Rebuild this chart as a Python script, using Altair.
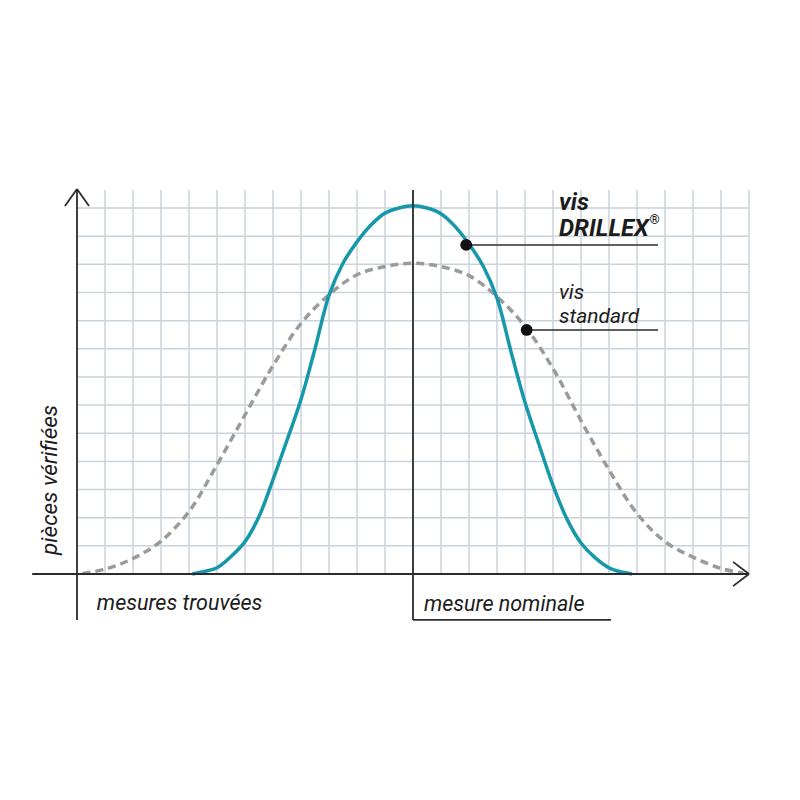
import altair as alt
import pandas as pd

# ---- data (grid units: 1 cell horizontally / vertically) ----
solid_x = [-7.88, -7.5, -7, -6.5, -6, -5.5, -5, -4.5, -4, -3.5, -3, -2.5, -2, -1.5, -1, -0.5, 0,
           0.5, 1, 1.5, 2, 2.5, 3, 3.5, 4, 4.5, 5, 5.5, 6, 6.5, 7, 7.5, 7.82]
solid_y = [0, 0.08, 0.22, 0.62, 1.15, 2.04, 3.35, 4.75, 6.2, 8.0, 9.9, 11.04, 11.8, 12.4, 12.82, 13.0, 13.08,
           13.0, 12.8, 12.35, 11.72, 10.95, 9.8, 7.9, 6.1, 4.6, 3.15, 1.95, 1.1, 0.58, 0.22, 0.06, 0]

dash_x = [-11.8, -11, -10, -9, -8, -7, -6, -5, -4, -3, -2, -1, 0, 1, 2, 3, 4, 5, 6, 7, 8, 9, 10, 11, 11.8]
dash_y = [0.02, 0.17, 0.55, 1.17, 2.22, 3.88, 5.65, 7.4, 8.9, 9.92, 10.63, 10.92, 11.04,
          10.92, 10.6, 9.85, 8.8, 7.3, 5.45, 3.7, 2.15, 1.15, 0.6, 0.2, 0.03]

grid_vx = list(range(-11, 13))
grid_hy = list(range(1, 14))

dot_x = [1.9, 4.06]
dot_y = [11.69, 8.67]
leader_end = 8.75

labels_text = ["vis", "DRILLEX", "®", "vis", "standard"]
axis_titles = ["mesures trouvées", "mesure nominale"]
y_title = "pièces vérifiées"

XDOM = [-14.464, 13.536]
YDOM = [-7.744, 20.107]

xs = alt.Scale(domain=XDOM, nice=False, zero=False)
ys = alt.Scale(domain=YDOM, nice=False, zero=False)

def X(f="x"):
    return alt.X(f"{f}:Q", scale=xs, axis=None)

def Y(f="y"):
    return alt.Y(f"{f}:Q", scale=ys, axis=None)

GRID = "#c9d3db"
INK = "#2b2b2b"
FONT = "Roboto"
TXT = "#1c1c1c"

vgrid = alt.Chart(pd.DataFrame({"x": grid_vx, "y": 0, "y2": 13.64})).mark_rule(
    color=GRID, strokeWidth=1.5).encode(x=X(), y=Y(), y2="y2:Q")
hgrid = alt.Chart(pd.DataFrame({"y": grid_hy, "x": -12, "x2": 12})).mark_rule(
    color=GRID, strokeWidth=1.5).encode(x=X(), x2="x2:Q", y=Y())

dash = alt.Chart(pd.DataFrame({"x": dash_x, "y": dash_y})).mark_line(
    color="#9b9b9b", strokeWidth=3.5, strokeDash=[8, 5], interpolate="catmull-rom"
).encode(x=X(), y=Y(), order="x:Q")

solid = alt.Chart(pd.DataFrame({"x": solid_x, "y": solid_y})).mark_line(
    color="#1797aa", strokeWidth=3.5, interpolate="catmull-rom"
).encode(x=X(), y=Y(), order="x:Q")

# axis / frame segments
seg = pd.DataFrame({
    "x":  [-12, -12.43, -11.57, -13.6, 11.43, 11.43, 0, 0],
    "y":  [-1.63, 13.07, 13.07, 0, 0.43, -0.43, 13.64, -1.63],
    "x2": [-12, -12, -12, 12.0, 12.0, 12.0, 0, 7.07],
    "y2": [13.68, 13.68, 13.68, 0, 0, 0, -1.63, -1.63],
})
segs = alt.Chart(seg).mark_rule(color=INK, strokeWidth=1.8).encode(
    x=X(), x2="x2:Q", y=Y(), y2="y2:Q")

leaders = alt.Chart(pd.DataFrame({"x": dot_x, "y": dot_y, "x2": leader_end})).mark_rule(
    color=INK, strokeWidth=1.5).encode(x=X(), x2="x2:Q", y=Y())
dots = alt.Chart(pd.DataFrame({"x": dot_x, "y": dot_y})).mark_circle(
    color="#111111", size=140, opacity=1).encode(x=X(), y=Y())

lab = pd.DataFrame({
    "t": labels_text,
    "x": [5.214, 5.214, 8.45, 5.214, 5.214],
    "y": [12.93, 12.02, 12.42, 9.76, 8.93],
})
labels_bold = alt.Chart(lab.iloc[:2]).mark_text(
    font=FONT, fontStyle="italic", fontWeight="bold", fontSize=24, align="left",
    baseline="alphabetic", color=TXT).encode(x=X(), y=Y(), text="t:N")
reg = alt.Chart(lab.iloc[2:3]).mark_text(
    font=FONT, fontWeight="bold", fontSize=13, align="left",
    baseline="alphabetic", color=TXT).encode(x=X(), y=Y(), text="t:N")
labels_reg = alt.Chart(lab.iloc[3:]).mark_text(
    font=FONT, fontStyle="italic", fontWeight="normal", fontSize=21, align="left",
    baseline="alphabetic", color=TXT).encode(x=X(), y=Y(), text="t:N")

axis_text = pd.DataFrame({
    "t": axis_titles,
    "x": [-11.29, 0.39],
    "y": [-1.28, -1.30],
})
axlabels = alt.Chart(axis_text).mark_text(
    font=FONT, fontStyle="italic", fontWeight="normal", fontSize=21.5, align="left",
    baseline="alphabetic", color=TXT).encode(x=X(), y=Y(), text="t:N")

ytitle = alt.Chart(pd.DataFrame({"t": [y_title], "x": [-12.71], "y": [0.675]})).mark_text(
    font=FONT, fontStyle="italic", fontWeight="normal", fontSize=22.5, align="left", angle=270,
    baseline="alphabetic", color=TXT).encode(x=X(), y=Y(), text="t:N")

chart = alt.layer(
    vgrid, hgrid, dash, solid, segs, leaders, dots,
    labels_bold, reg, labels_reg, axlabels, ytitle
).properties(
    width=784, height=784, padding=0, autosize=alt.AutoSizeParams(type="none"),
    background="white"
).configure_view(stroke=None)

chart.save("out.html", embed_options={"renderer": "svg", "actions": False})
